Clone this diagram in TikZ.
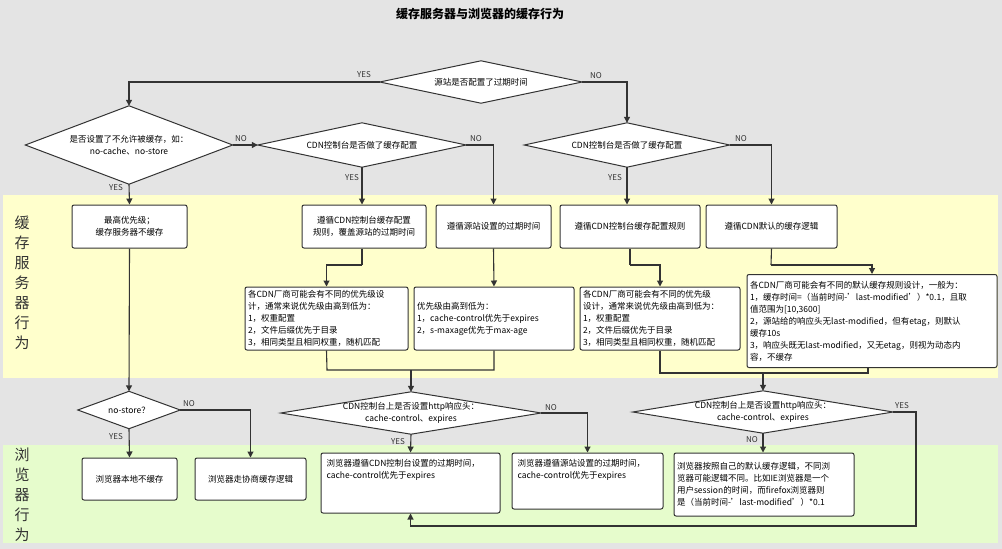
\documentclass[tikz,border=0pt]{standalone}
\usepackage{fontspec}
\setmainfont{Noto Sans CJK SC}
\usetikzlibrary{shapes.geometric,arrows.meta}
\definecolor{bg}{HTML}{E4E4E4}
\definecolor{yel}{HTML}{FFFFCC}
\definecolor{grn}{HTML}{E6FCCC}
\definecolor{ln}{HTML}{333333}
\newcommand{\mydia}[6]{%
  \node[dia,minimum width=#4,minimum height=#5] (#1) at (#2,#3) {};
  \draw[draw=ln,fill=white,line width=1pt] (#1.west)--(#1.north)--(#1.east)--(#1.south)--cycle;
  \node[align=center,inner sep=0pt] (#1t) at (#1.center) {#6};}
\begin{document}
\begin{tikzpicture}[x=1pt,y=-1pt,
  font=\fontsize{8.5}{12}\selectfont,
  dia/.style={rectangle,draw=none,inner sep=0pt},
  box/.style={draw=ln,fill=white,line width=1pt,rounded corners=2pt,inner sep=3pt,align=center},
  arr/.style={draw=ln,line width=1.1pt,-{Triangle[length=6pt,width=6pt]}},
  ln/.style={draw=ln,line width=1.1pt},
  lab/.style={font=\fontsize{8}{9}\selectfont,text=ln},
  side/.style={font=\fontsize{15}{20}\selectfont,align=center,text=ln}]
\fill[bg] (0,0) rectangle (1002,549);
\useasboundingbox (0,0) rectangle (1002,549);
\fill[yel] (3,195) rectangle (998,378);
\fill[grn] (3,445) rectangle (998,543);
\node[font=\bfseries\fontsize{12}{14}\selectfont] (title) at (480,14) {缓存服务器与浏览器的缓存行为};
\node[side] (s1) at (22,283) {缓\\存\\服\\务\\器\\行\\为};
\node[side] (s2) at (22,495) {浏\\览\\器\\行\\为};

% diamonds
\mydia{d1}{481}{82}{202}{42}{源站是否配置了过期时间}
\mydia{d2}{129}{145}{207}{78}{是否设置了不允许被缓存，如：\\no-cache、no-store}
\mydia{d3}{362}{145}{208}{44}{CDN控制台是否做了缓存配置}
\mydia{d4}{627}{145}{205}{44}{CDN控制台是否做了缓存配置}
\mydia{d7}{129}{410}{102}{37}{no-store？}
\mydia{d5}{411}{413}{260}{42}{CDN控制台上是否设置http响应头：\\cache-control、expires}
\mydia{d6}{763}{412}{260}{42}{CDN控制台上是否设置http响应头：\\cache-control、expires}

% row 1
\node[box,minimum width=115,minimum height=43] (b1) at (129.5,226.5) {最高优先级；\\缓存服务器不缓存};
\node[box,minimum width=124,minimum height=43] (b2) at (364,226.5) {遵循CDN控制台缓存配置\\规则，覆盖源站的过期时间};
\node[box,minimum width=115,minimum height=43] (b3) at (493.5,226.5) {遵循源站设置的过期时间};
\node[box,minimum width=140,minimum height=43] (b4) at (630,226.5) {遵循CDN控制台缓存配置规则};
\node[box,minimum width=131,minimum height=43] (b5) at (771.5,226.5) {遵循CDN默认的缓存逻辑};

% row 2
\node[box,align=left,text width=157,minimum height=63] (b6) at (326.5,318.5) {各CDN厂商可能会有不同的优先级设\\计，通常来说优先级由高到低为：\\1，权重配置\\2，文件后缀优先于目录\\3，相同类型且相同权重，随机匹配};
\node[box,align=left,text width=154,minimum height=63] (b7) at (494,318.5) {优先级由高到低为：\\1，cache-control优先于expires\\2，s-maxage优先于max-age};
\node[box,align=left,text width=154,minimum height=63] (b8) at (660,318.5) {各CDN厂商可能会有不同的优先级\\设计，通常来说优先级由高到低为：\\1，权重配置\\2，文件后缀优先于目录\\3，相同类型且相同权重，随机匹配};
\node[box,align=left,text width=244,minimum height=93] (b9) at (872,321) {各CDN厂商可能会有不同的默认缓存规则设计，一般为：\\1，缓存时间=（当前时间-'last-modified'）*0.1，且取\\值范围为[10,3600]\\2，源站给的响应头无last-modified，但有etag，则默认\\缓存10s\\3，响应头既无last-modified，又无etag，则视为动态内\\容，不缓存};

% row 3
\node[box,align=left,minimum width=95,minimum height=42] (b10) at (129.5,479) {浏览器本地不缓存};
\node[box,align=left,minimum width=111,minimum height=42] (b11) at (250.5,479) {浏览器走协商缓存逻辑};
\node[box,align=left,minimum width=179,minimum height=60,inner sep=5pt] (b12) at (410.5,483) {\parbox[t][48pt][t]{168pt}{浏览器遵循CDN控制台设置的过期时间，\\cache-control优先于expires}};
\node[box,align=left,minimum width=151,minimum height=56,inner sep=5pt] (b13) at (587.5,481) {\parbox[t][44pt][t]{140pt}{浏览器遵循源站设置的过期时间，\\cache-control优先于expires}};
\node[box,align=left,text width=174,minimum height=63] (b14) at (764,484.5) {浏览器按照自己的默认缓存逻辑，不同浏\\览器可能逻辑不同。比如IE浏览器是一个\\用户session的时间，而firefox浏览器则\\是（当前时间-'last-modified'）*0.1};

% connectors
\draw[arr] (d1.west) -| (d2.north);
\draw[arr] (d1.east) -| (d4.north);
\draw[arr] (d2.east) -- (d3.west);
\draw[arr] (d2.south) -- (b1.north);
\draw[arr] (d3.south) -- (b2.north -| d3.south);
\draw[arr] (d3.east) -| (b3.north);
\draw[arr] (d4.south) -- (b4.north -| d4.south);
\draw[arr] (d4.east) -| (b5.north);
\coordinate (c2) at (362,265);
\coordinate (c4) at (630,265);
\coordinate (c5) at (771,265);
\draw[ln] (b2.south -| c2) -- (c2);
\draw[arr] (c2) -| (b6.north);
\draw[arr] (b3.south) -- (b7.north);
\draw[ln] (b4.south) -- (c4);
\draw[arr] (c4) -| (b8.north);
\draw[ln] (b5.south) -- (c5);
\draw[arr] (c5) -| (b9.north);
\coordinate (m1) at (327,370);
\coordinate (m2) at (494,370);
\coordinate (m3) at (411,370);
\draw[ln] (b6.south) -- (m1) -- (m2) -- (b7.south);
\draw[arr] (m3) -- (d5.north);
\coordinate (n1) at (660,373);
\coordinate (n2) at (868,373);
\coordinate (n3) at (763,373);
\draw[ln] (b8.south) -- (n1) -- (n2) -- (b9.south -| n2);
\draw[arr] (n3) -- (d6.north);
\draw[arr] (b1.south) -- (d7.north);
\draw[arr] (d7.south) -- (b10.north);
\draw[arr] (d7.east) -| (b11.north);
\draw[arr] (d5.south) -- (b12.north);
\draw[arr] (d5.east) -| (b13.north);
\draw[arr] (d6.south) -- (b14.north -| d6.south);
\coordinate (y1) at (916,526);
\draw[arr] (d6.east) -| (y1) -| (b12.south);

% labels
\node[lab] (l1) at (364,75) {YES};
\node[lab] (l2) at (596,76) {NO};
\node[lab] (l3) at (241,139) {NO};
\node[lab] (l4) at (476,139) {NO};
\node[lab] (l5) at (741,139) {NO};
\node[lab] (l6) at (116,188) {YES};
\node[lab] (l7) at (352,178) {YES};
\node[lab] (l8) at (615,178) {YES};
\node[lab] (l9) at (189,404) {NO};
\node[lab] (l10) at (116,437) {YES};
\node[lab] (l11) at (551,408) {NO};
\node[lab] (l12) at (398,442) {YES};
\node[lab] (l13) at (752,440) {NO};
\node[lab] (l14) at (902,406) {YES};
\end{tikzpicture}
\end{document}
